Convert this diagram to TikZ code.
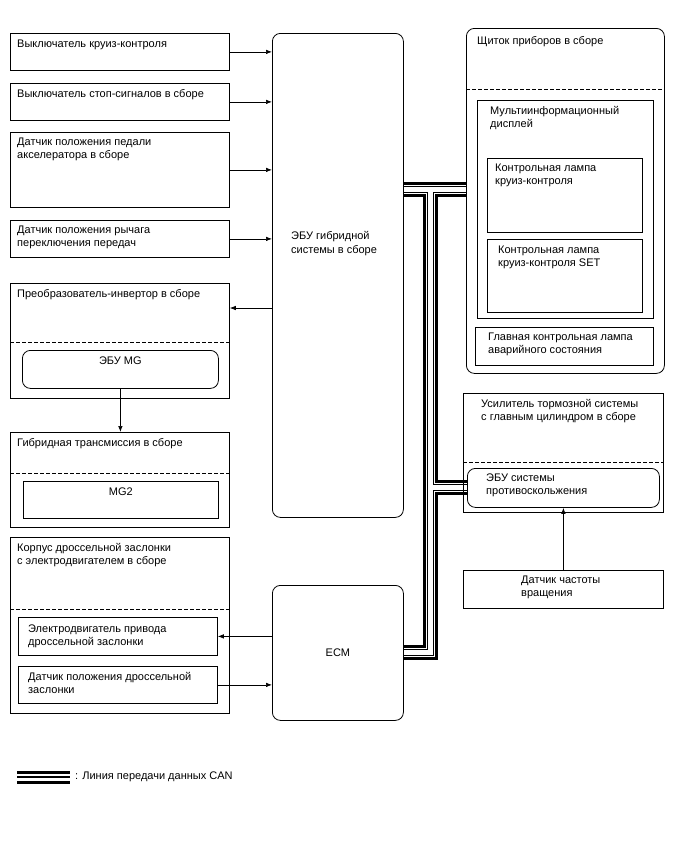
\documentclass[tikz,border=0pt]{standalone}
\usepackage{fontspec}
\setmainfont{Liberation Sans}
\usetikzlibrary{arrows.meta,backgrounds}
\tikzset
{
  box/.style={draw,line width=0.8pt,anchor=north west,inner sep=0pt},
  rbox/.style={box,rounded corners=8pt},
  txt/.style={anchor=base west,align=left,inner sep=0pt,font=\fontsize{11}{13.5}\selectfont},
  ctxt/.style={txt,anchor=base,align=center},
  sig/.style={draw,line width=0.7pt,-{Latex[length=6pt,width=4.5pt]}},
  divider/.style={draw,line width=0.8pt,dash pattern=on 4pt off 2pt}
}

\begin{document}
\begin{tikzpicture}[x=1pt,y=-1pt]
    \useasboundingbox (0,0) rectangle (688,852);

    % Left column (two-line texts are placed by their last baseline)
    \node[box,minimum width=219,minimum height=37] (cruise) at (10,33) {};
    \node[txt] (cruise-t) at ([shift={(7,14)}]cruise.north west) {Выключатель круиз-контроля};
    \node[box,minimum width=219,minimum height=37] (stop) at (10,83) {};
    \node[txt] (stop-t) at ([shift={(7,14)}]stop.north west) {Выключатель стоп-сигналов в сборе};
    \node[box,minimum width=219,minimum height=75] (pedal) at (10,132) {};
    \node[txt] (pedal-t) at ([shift={(7,26.5)}]pedal.north west) {Датчик положения педали\\акселератора в сборе};
    \node[box,minimum width=219,minimum height=37] (lever) at (10,220) {};
    \node[txt] (lever-t) at ([shift={(7,26.5)}]lever.north west) {Датчик положения рычага\\переключения передач};

    \node[box,minimum width=219,minimum height=115] (inv) at (10,283) {};
    \node[txt] (inv-t) at ([shift={(7,14)}]inv.north west) {Преобразователь-инвертор в сборе};
    \draw[divider] ([yshift=-59pt]inv.north west) -- ([yshift=-59pt]inv.north east);
    \node[rbox,minimum width=196,minimum height=38] (mgecu) at (22,350) {};
    \node[ctxt] (mgecu-t) at ([shift={(0,14)}]mgecu.north) {ЭБУ MG};

    \node[box,minimum width=219,minimum height=95] (trans) at (10,432) {};
    \node[txt] (trans-t) at ([shift={(7,14)}]trans.north west) {Гибридная трансмиссия в сборе};
    \draw[divider] ([yshift=-41pt]trans.north west) -- ([yshift=-41pt]trans.north east);
    \node[box,minimum width=195,minimum height=37] (mg2) at (23,481) {};
    \node[ctxt] (mg2-t) at ([shift={(0,14)}]mg2.north) {MG2};

    \node[box,minimum width=219,minimum height=176] (throttle) at (10,537) {};
    \node[txt] (throttle-t) at ([shift={(7,27.5)}]throttle.north west) {Корпус дроссельной заслонки\\с электродвигателем в сборе};
    \draw[divider] ([yshift=-72pt]throttle.north west) -- ([yshift=-72pt]throttle.north east);
    \node[box,minimum width=199,minimum height=38] (motor) at (18,617) {};
    \node[txt] (motor-t) at ([shift={(10,28.5)}]motor.north west) {Электродвигатель привода\\дроссельной заслонки};
    \node[box,minimum width=199,minimum height=37] (tps) at (18,666) {};
    \node[txt] (tps-t) at ([shift={(10,27.5)}]tps.north west) {Датчик положения дроссельной\\заслонки};

    % ECUs in the middle
    \node[rbox,minimum width=131,minimum height=484] (hv) at (272,33) {};
    \node[txt] (hv-t) at (291,253) {ЭБУ гибридной\\системы в сборе};
    \node[rbox,minimum width=131,minimum height=135,font=\fontsize{11}{13.5}\selectfont] (ecm) at (272,585) {ECM};

    % Right column
    \node[rbox,minimum width=198,minimum height=345] (meter) at (466,28) {};
    \node[txt] (meter-t) at ([shift={(11,16)}]meter.north west) {Щиток приборов в сборе};
    \draw[divider] ([yshift=-61pt]meter.north west) -- ([yshift=-61pt]meter.north east);
    \node[box,minimum width=176,minimum height=218] (mid) at (477,100) {};
    \node[txt] (mid-t) at ([shift={(13,27.5)}]mid.north west) {Мультиинформационный\\дисплей};
    \node[box,minimum width=155,minimum height=74] (clamp) at (487,158) {};
    \node[txt] (clamp-t) at ([shift={(8,26.5)}]clamp.north west) {Контрольная лампа\\круиз-контроля};
    \node[box,minimum width=155,minimum height=73] (setlamp) at (487,239) {};
    \node[txt] (setlamp-t) at ([shift={(11,27.5)}]setlamp.north west) {Контрольная лампа\\круиз-контроля SET};
    \node[box,minimum width=178,minimum height=38] (master) at (475,327) {};
    \node[txt] (master-t) at ([shift={(13,26.5)}]master.north west) {Главная контрольная лампа\\аварийного состояния};

    \node[box,minimum width=200,minimum height=119] (brake) at (463,393) {};
    \node[txt] (brake-t) at ([shift={(18,27.5)}]brake.north west) {Усилитель тормозной системы\\с главным цилиндром в сборе};
    \draw[divider] ([yshift=-69pt]brake.north west) -- ([yshift=-69pt]brake.north east);
    \node[rbox,minimum width=192,minimum height=39] (abs) at (467,468) {};
    \node[txt] (abs-t) at ([shift={(19,26.5)}]abs.north west) {ЭБУ системы\\противоскольжения};
    \node[box,minimum width=200,minimum height=38] (speed) at (463,570) {};
    \node[txt] (speed-t) at ([shift={(58,26.5)}]speed.north west) {Датчик частоты\\вращения};

    % Signal lines
    \draw[sig] (cruise.east) -- (cruise.east -| hv.west);
    \draw[sig] (stop.east) -- (stop.east -| hv.west);
    \draw[sig] (pedal.east) -- (pedal.east -| hv.west);
    \draw[sig] (lever.east) -- (lever.east -| hv.west);
    \coordinate (inv-in) at ([yshift=-25pt]inv.north east);
    \draw[sig] (inv-in -| hv.west) -- (inv-in);
    \draw[sig] (mgecu.south) -- (mgecu.south |- trans.north);
    \draw[sig] (motor.east -| ecm.west) -- (motor.east);
    \draw[sig] (tps.east) -- (tps.east -| ecm.west);
    \draw[sig] (speed.north) -- (speed.north |- abs.south);

    % CAN bus
    \coordinate (j1) at (430,189);
    \begin{scope}[on background layer]
        \foreach \w/\c in {15/black,9/white,7/black,5/white}
            \draw[line width=\w pt,\c] (hv.east |- j1) -- (meter.west |- j1)
                (j1) -- (j1 |- ecm.east) -- (ecm.east)
                (j1 |- abs.west) -- (abs.west);
    \end{scope}

    % Legend
    \coordinate (leg-a) at (17,777);
    \coordinate (leg-b) at (70,777);
    \foreach \w/\c in {13/black,7/white,1.5/black}
        \draw[line width=\w pt,\c] (leg-a) -- (leg-b);
    \node[txt,anchor=west] (leg-t) at ([xshift=5pt]leg-b) {: Линия передачи данных CAN};
\end{tikzpicture}
\end{document}
